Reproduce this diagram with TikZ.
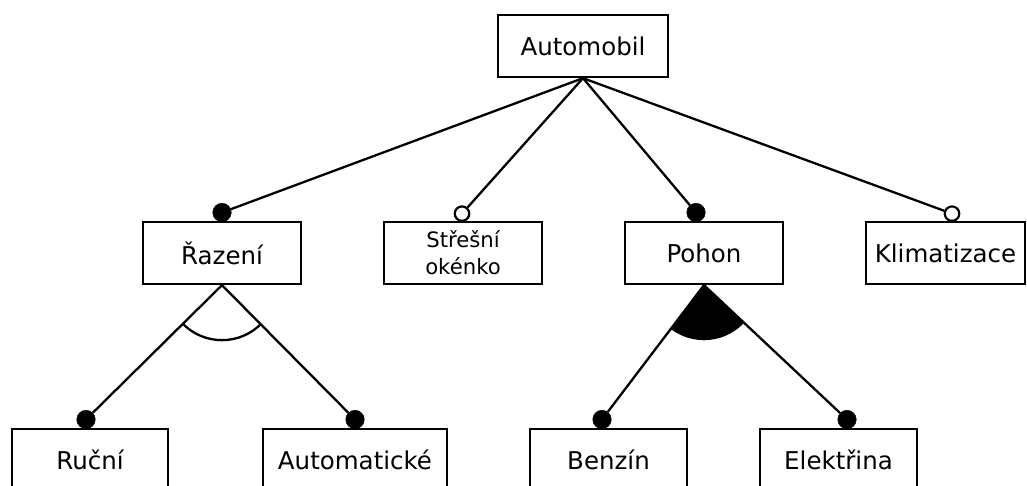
\documentclass[tikz,border=0pt]{standalone}
\usepackage{fontspec}
\setmainfont{DejaVu Sans}
\usetikzlibrary{calc}

\tikzset{
  feature/.style={draw, line width=2.3pt, rectangle, minimum height=62pt, inner sep=0pt,
    font=\fontsize{24.5}{29}\selectfont},
  mandatory/.style={circle, fill=black, draw=black, line width=0.5pt, minimum size=18.5pt, inner sep=0pt, anchor=south},
  optional/.style={circle, fill=white, draw=black, line width=2.2pt, minimum size=14.5pt, inner sep=0pt, anchor=south},
  link/.style={line width=2.3pt},
}

\begin{document}
\begin{tikzpicture}[x=1pt, y=-1pt]
  \useasboundingbox (0,0) rectangle (1027,485);

  % feature boxes
  \node[feature, minimum width=170pt] (auto) at (583,46) {Automobil};
  \node[feature, minimum width=158pt] (raz) at (222,253) {Řazení};
  \node[feature, minimum width=158pt, align=center, font=\fontsize{21.2}{27}\selectfont] (stre) at (463,253) {Střešní\\okénko};
  \node[feature, minimum width=158pt] (poh) at (704,253) {Pohon};
  \node[feature, minimum width=159pt] (klim) at (945.5,253) {Klimatizace};
  \node[feature, minimum width=156pt] (ruc) at (90,460) {Ruční};
  \node[feature, minimum width=184pt] (aut) at (355,460) {Automatické};
  \node[feature, minimum width=157pt] (ben) at (608.5,460) {Benzín};
  \node[feature, minimum width=157pt] (ele) at (838.5,460) {Elektřina};

  % group markers below the parents
  \begin{scope}
    \clip (raz.south) -- ($(raz.south)!4!(86,419)$) -- ($(raz.south)!4!(355,419)$) -- cycle;
    \draw[link] (raz.south) circle (55);
  \end{scope}
  \begin{scope}
    \clip (poh.south) -- ($(poh.south)!4!(602,419)$) -- ($(poh.south)!4!(847,419)$) -- cycle;
    \fill (poh.south) circle (55);
  \end{scope}

  % mandatory / optional markers
  \node[mandatory] (mraz) at (222,222) {};
  \node[optional] (ostre) at (462,222) {};
  \node[mandatory] (mpoh) at (696,222) {};
  \node[optional] (oklim) at (952,222) {};
  \node[mandatory] (mruc) at (86,429) {};
  \node[mandatory] (maut) at (355,429) {};
  \node[mandatory] (mben) at (602,429) {};
  \node[mandatory] (mele) at (847,429) {};

  % connectors
  \draw[link] (auto.south) -- (mraz);
  \draw[link] (auto.south) -- (ostre);
  \draw[link] (auto.south) -- (mpoh);
  \draw[link] (auto.south) -- (oklim);
  \draw[link] (raz.south) -- (mruc);
  \draw[link] (raz.south) -- (maut);
  \draw[link] (poh.south) -- (mben);
  \draw[link] (poh.south) -- (mele);
\end{tikzpicture}
\end{document}
